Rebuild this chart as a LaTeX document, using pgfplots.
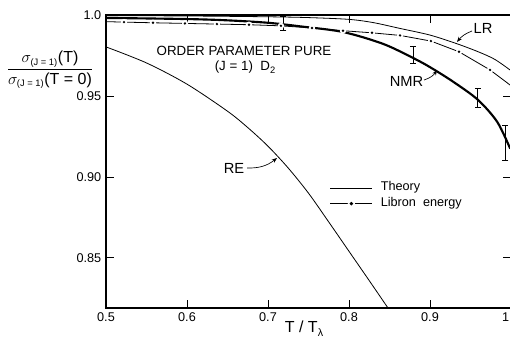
\documentclass[border=0pt]{standalone}
\usepackage{fontspec}
\setmainfont{Liberation Sans}
\usepackage{pgfplots}
\pgfplotsset{compat=1.18}
\usetikzlibrary{arrows.meta}
\pgfdeclareplotmark{gapdot}{%
  \pgfpathcircle{\pgfpointorigin}{2.4pt}%
  \pgfsetfillcolor{white}\pgfusepathqfill
  \pgfpathcircle{\pgfpointorigin}{1.0pt}%
  \pgfsetfillcolor{black}\pgfusepathqfill}
\begin{document}
\begin{tikzpicture}
\useasboundingbox (0,0) rectangle (382.5pt,257.25pt);
\begin{axis}[
  at={(79.5pt,26.25pt)}, anchor=south west,
  scale only axis, width=303.75pt, height=219.75pt,
  xmin=0.5, xmax=1.0, ymin=0.8191, ymax=1.0,
  axis line style={line width=1.2pt},
  xtick={0.5,0.6,0.7,0.8,0.9,1.0},
  xticklabels={0.5,0.6,0.7,0.8,0.9,1.0},
  ytick={0.85,0.90,0.95,1.0},
  yticklabels={0.85,0.90,0.95,1.0},
  tick align=inside, major tick length=6pt,
  tick style={line width=0.7pt, black},
  ticklabel style={font=\fontsize{9.5}{11}\selectfont},
  legend style={draw=none, fill=none, at={(axis cs:0.7765,0.8977)}, anchor=north west,
    inner sep=0pt, outer sep=0pt,
    nodes={inner sep=0pt, text height=7.5pt, text depth=4pt, font=\fontsize{9.5}{11}\selectfont},
    /tikz/every odd column/.append style={column sep=6pt}},
  legend cell align=left,
]
% LR (theory)
\addplot[black, line width=0.6pt, smooth,
  legend image code/.code={\draw[black,line width=0.6pt] (0pt,0pt) -- (31.5pt,0pt);}]
  coordinates {(0.5,0.9996)(0.6,0.9994)(0.7,0.9989)(0.75,0.9984)(0.8,0.9973)(0.83,0.9953)
  (0.863,0.9917)(0.9,0.9876)(0.933,0.9823)(0.96,0.9772)(0.98,0.9726)(0.999,0.9660)};
\addlegendentry{Theory}
% Libron energy
\addplot[black, line width=0.6pt, mark=gapdot, mark indices={2,3,4,5,6,7,8,9,10,11,12,13,14},
  legend image code/.code={\draw[black,line width=0.6pt] (0pt,0pt) -- (31.5pt,0pt);
    \fill[white] (15.75pt,0pt) circle[radius=2.4pt];
    \fill[black] (15.75pt,0pt) circle[radius=1pt];}]
  coordinates {(0.5,0.9959)(0.5222,0.9956)(0.5580,0.9952)(0.5975,0.9948)(0.6370,0.9944)
  (0.6765,0.9940)(0.7160,0.9933)(0.7543,0.9920)(0.7926,0.9903)(0.8284,0.9890)
  (0.8630,0.9874)(0.9012,0.9839)(0.9358,0.9773)(0.9741,0.9661)(0.9988,0.9568)};
\addlegendentry{Libron\ \ energy}
% RE
\addplot[black, line width=0.6pt, smooth, forget plot]
  coordinates {(0.5,0.9803)(0.55,0.9704)(0.6,0.9573)(0.65,0.9406)(0.675,0.9305)
  (0.7,0.9190)(0.725,0.9055)(0.75,0.8900)(0.775,0.8722)(0.8,0.8541)(0.825,0.8360)
  (0.848,0.8192)};
% NMR (thick)
\addplot[black, line width=1.6pt, smooth, forget plot]
  coordinates {(0.5,0.9982)(0.6,0.9975)(0.65,0.9967)(0.7,0.9952)(0.7395,0.9930)
  (0.7926,0.9895)(0.842,0.9822)(0.879,0.9735)(0.900,0.9678)(0.928,0.9590)
  (0.959,0.9477)(0.983,0.9340)(0.999,0.9175)};
% error bars
\addplot[draw=none, mark=none, forget plot,
  error bars/.cd, y dir=both, y explicit,
  error bar style={draw=black, line width=0.6pt},
  error mark options={rotate=90, mark size=2.25pt, line width=0.6pt, draw=black}]
  coordinates {(0.719,0.9948) +- (0,0.0046) (0.879,0.9753) +- (0,0.0052)
  (0.959,0.9486) +- (0,0.0059) (0.993,0.9213) +- (0,0.0108)};
\end{axis}
\begin{scope}[shift={(0pt,257.25pt)}, x=0.75pt, y=-0.75pt]
\node[font=\fontsize{10}{12}\selectfont] at (244,51) {ORDER PARAMETER PURE};
\node[font=\fontsize{10}{12}\selectfont] at (245,67) {(J = 1)\ \ D\raisebox{-2pt}{\fontsize{7}{8}\selectfont 2}};
\node[font=\fontsize{11}{13}\selectfont] at (483,28) {LR};
\node[font=\fontsize{11}{13}\selectfont] at (406.5,81) {NMR};
\node[font=\fontsize{11}{13}\selectfont] at (234,168.5) {RE};
\draw[-{Stealth[length=4pt,width=3pt]}, line width=0.5pt] (472,31) to[bend right=15] (457,42);
\draw[-{Stealth[length=4pt,width=3pt]}, line width=0.5pt] (424,80) to[bend right=20] (437,70);
\draw[-{Stealth[length=4pt,width=3pt]}, line width=0.5pt] (247,168) to[bend right=20] (277,158);
\node[font=\fontsize{12}{14}\selectfont] at (50,70)
  {$\displaystyle\frac{\sigma_{\mbox{\fontsize{7}{8}\selectfont(J = 1)}}\mbox{(T)}}{\sigma_{\mbox{\fontsize{7}{8}\selectfont(J = 1)}}\mbox{(T = 0)}}$};
\node[font=\fontsize{12}{14}\selectfont] at (304,329) {T / T\raisebox{-3pt}{\fontsize{8}{9}\selectfont λ}};
\end{scope}
\end{tikzpicture}
\end{document}
